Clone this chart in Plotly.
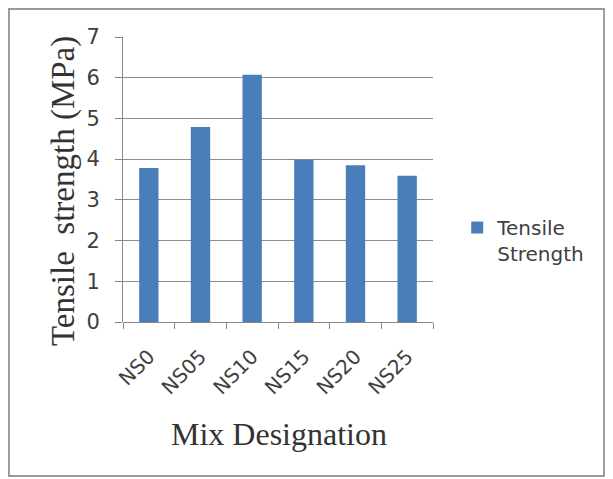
import plotly.graph_objects as go

categories = ["NS0", "NS05", "NS10", "NS15", "NS20", "NS25"]
tensile_strength = [3.78, 4.79, 6.07, 3.99, 3.85, 3.59]
y_ticks = [0, 1, 2, 3, 4, 5, 6, 7]
series_name = "Tensile<br>Strength"
x_title = "Mix Designation"
y_title = "Tensile  strength (MPa)"

fig = go.Figure()
fig.add_trace(go.Bar(
    x=categories, y=tensile_strength, name=series_name,
    marker=dict(color="#4a7ebb", line=dict(width=0)),
    showlegend=True,
))

fig.update_layout(
    width=605, height=471,
    margin=dict(l=115, r=180, t=29, b=157, autoexpand=False),
    paper_bgcolor="white", plot_bgcolor="white",
    bargap=0.625,
    showlegend=True,
    legend=dict(
        x=1.078, y=0.40, xanchor="left", yanchor="top",
        valign="top",
        font=dict(family="DejaVu Sans", size=20, color="#404040"),
        bgcolor="rgba(0,0,0,0)", tracegroupgap=0,
    ),
    xaxis=dict(
        type="category",
        tickangle=-45,
        tickson="boundaries",
        ticks="outside", ticklen=6, tickcolor="#868686",
        ticklabelstandoff=18,
        showline=False,
        showgrid=False,
        tickfont=dict(family="DejaVu Sans", size=20, color="#404040"),
        automargin=False,
    ),
    yaxis=dict(
        range=[0, 7],
        tickvals=y_ticks,
        ticks="outside", ticklen=7, tickcolor="#868686",
        ticklabelstandoff=11,
        showgrid=True, gridcolor="#8c8c8c", gridwidth=1,
        showline=True, linecolor="#868686", linewidth=1,
        zeroline=True, zerolinecolor="#868686", zerolinewidth=1,
        tickfont=dict(family="DejaVu Sans", size=21, color="#404040"),
        automargin=False,
    ),
    annotations=[
        dict(text=y_title, xref="paper", yref="paper", x=-0.190, y=0.460,
             xanchor="center", yanchor="middle", textangle=-90, showarrow=False,
             font=dict(family="Liberation Serif", size=33, color="#333333")),
        dict(text=x_title, xref="paper", yref="paper", x=0.503, y=-0.393,
             xanchor="center", yanchor="middle", showarrow=False,
             font=dict(family="Liberation Serif", size=32, color="#333333")),
    ],
    shapes=[dict(
        type="rect", xref="paper", yref="paper",
        x0=-0.368, x1=1.552, y0=-0.540, y1=1.098,
        line=dict(color="#9a9a9a", width=2), fillcolor="rgba(0,0,0,0)",
        layer="below",
    )],
)

fig.write_html("out.html")
